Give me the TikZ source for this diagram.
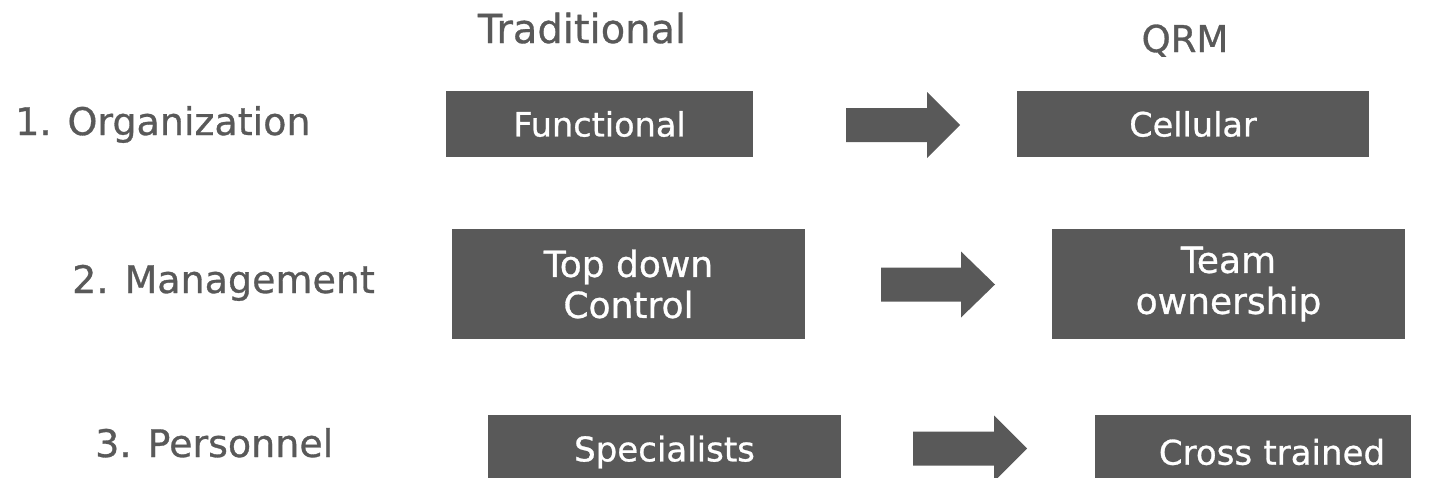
\documentclass[tikz,border=0pt]{standalone}
\usepackage{fontspec}
\setmainfont[FakeBold=0.8,AutoFakeBold=0.8]{DejaVu Sans}
\definecolor{slate}{HTML}{595959}
\tikzset{
  box/.style={fill=slate, draw=none, text=white, inner sep=0pt, align=center, anchor=center},
  rowlabel/.style={text=slate, inner sep=0pt, font=\fontsize{38}{41}\selectfont\bfseries},
  colhead/.style={text=slate, inner sep=0pt, anchor=base},
  blockarrow/.style={fill=slate, draw=none}
}
% block arrow: shaft left end x, centre y, head start x, tip x
\newcommand{\blockarr}[4]{%
  \fill[blockarrow] (#1,#2-17) -- (#3,#2-17) -- (#3,#2-33) -- (#4,#2)
    -- (#3,#2+33) -- (#3,#2+17) -- (#1,#2+17) -- cycle;}
\begin{document}
\begin{tikzpicture}[x=1pt, y=-1pt]
  \useasboundingbox (0,0) rectangle (1431,477);
  \clip (0,0) rectangle (1431,477);

  % column headings
  \node[colhead, font=\fontsize{40}{43}\selectfont\bfseries] (trad) at (582,43) {Traditional};
  \node[colhead, font=\fontsize{37}{40}\selectfont\bfseries] (qrm) at (1185,52) {QRM};

  % row labels
  \node[rowlabel, anchor=base west] (org) at (15,135) {1. Organization};
  \node[rowlabel, anchor=base west] (mgt) at (72,293) {2. Management};
  \node[rowlabel, anchor=base west] (per) at (95,457) {3. Personnel};

  % row 1
  \node[box, minimum width=307pt, minimum height=66pt, font=\fontsize{33.5}{36}\selectfont\bfseries] (fun) at (599.5,124) {Functional};
  \node[box, minimum width=352pt, minimum height=66pt, font=\fontsize{33.5}{36}\selectfont\bfseries] (cel) at (1193,124) {Cellular};
  \blockarr{846}{125}{927}{960}

  % row 2
  \node[box, minimum width=353pt, minimum height=110pt, font=\fontsize{36}{41}\selectfont\bfseries] (tdc) at (628.5,284) {Top down\\Control};
  \node[box, minimum width=353pt, minimum height=110pt, font=\fontsize{36}{41}\selectfont\bfseries] (own) at (1228.5,284) {Team\\ownership};
  \blockarr{881}{284.5}{961}{995}

  % row 3
  \node[box, minimum width=353pt, minimum height=74pt, font=\fontsize{34}{37}\selectfont\bfseries] (spe) at (664.5,452) {Specialists};
  \node[box, minimum width=316pt, minimum height=74pt, font=\fontsize{34}{37}\selectfont\bfseries, text width=316pt] (crs) at (1253,452) {\hspace*{38pt}Cross trained};
  \blockarr{913}{448.5}{994}{1027}
\end{tikzpicture}
\end{document}
